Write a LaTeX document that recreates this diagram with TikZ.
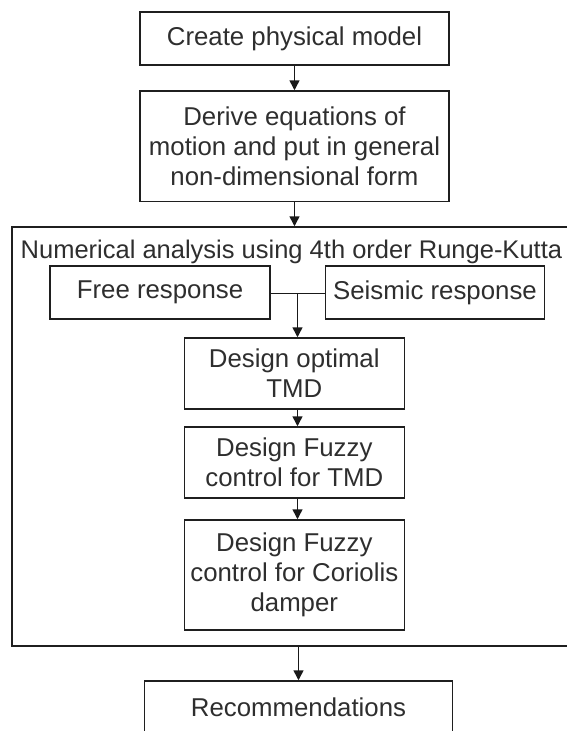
\documentclass[tikz,border=0pt]{standalone}
\usepackage{fontspec}
\setmainfont{Liberation Sans}
\usetikzlibrary{arrows.meta,calc}
\begin{document}
\begin{tikzpicture}[x=1pt,y=-1pt,
  txt/.style={font=\fontsize{25.8}{30}\selectfont, text=black!82},
  stepbox/.style={txt, draw=black!88, line width=1.5pt, align=center, inner sep=0pt},
  flow/.style={draw=black!90, line width=1.5pt, -{Triangle[length=10pt,width=10pt]}}]
\useasboundingbox (0,0) rectangle (567,731);
\clip (0,0) rectangle (567,731);

% main chain
\node[stepbox, minimum width=309pt, minimum height=53pt] (create) at (294.5,38.5) {Create physical model};
\node[stepbox, minimum width=309pt, minimum height=110.5pt] (derive) at (294.5,146.25)
  {Derive equations of\\motion and put in general\\non-dimensional form};

% frame of the numerical analysis stage
\node[stepbox, minimum width=578pt, minimum height=419pt] (analysis) at (301,436.5) {};
\node[txt, font=\fontsize{25.5}{30}\selectfont, anchor=base west, inner sep=0pt] (title) at (20.5,258)
  {Numerical analysis using 4th order Runge-Kutta};

\node[stepbox, minimum width=220pt, minimum height=53pt] (free) at (160,292.5) {Free response};
\node[stepbox, minimum width=219pt, minimum height=53pt] (seismic) at (435,292.5) {Seismic response};
\coordinate (join) at (297.5,293.5);

\node[stepbox, minimum width=220pt, minimum height=71pt] (optimal) at (294.3,373.5) {Design optimal\\TMD};
\node[stepbox, minimum width=220pt, minimum height=71pt] (fuzzytmd) at (294.3,462.5) {Design Fuzzy\\control for TMD};
\node[stepbox, minimum width=220pt, minimum height=110pt] (coriolis) at (294.3,575) {Design Fuzzy\\control for Coriolis\\damper};

\node[stepbox, minimum width=308pt, minimum height=53pt] (recommend) at (298.5,707.5) {Recommendations};

% connectors
\draw[flow] (create) -- (derive);
\draw[flow] (derive.south) -- (derive.south |- analysis.north);
\draw[draw=black!90, line width=1.5pt] (free.east |- join) -- (seismic.west |- join);
\draw[flow] (join) -- (join |- optimal.north);
\draw[flow] (optimal.south -| join) -- (fuzzytmd.north -| join);
\draw[flow] (fuzzytmd.south -| join) -- (coriolis.north -| join);
\draw[flow] (recommend.north |- analysis.south) -- (recommend.north);
\end{tikzpicture}
\end{document}
